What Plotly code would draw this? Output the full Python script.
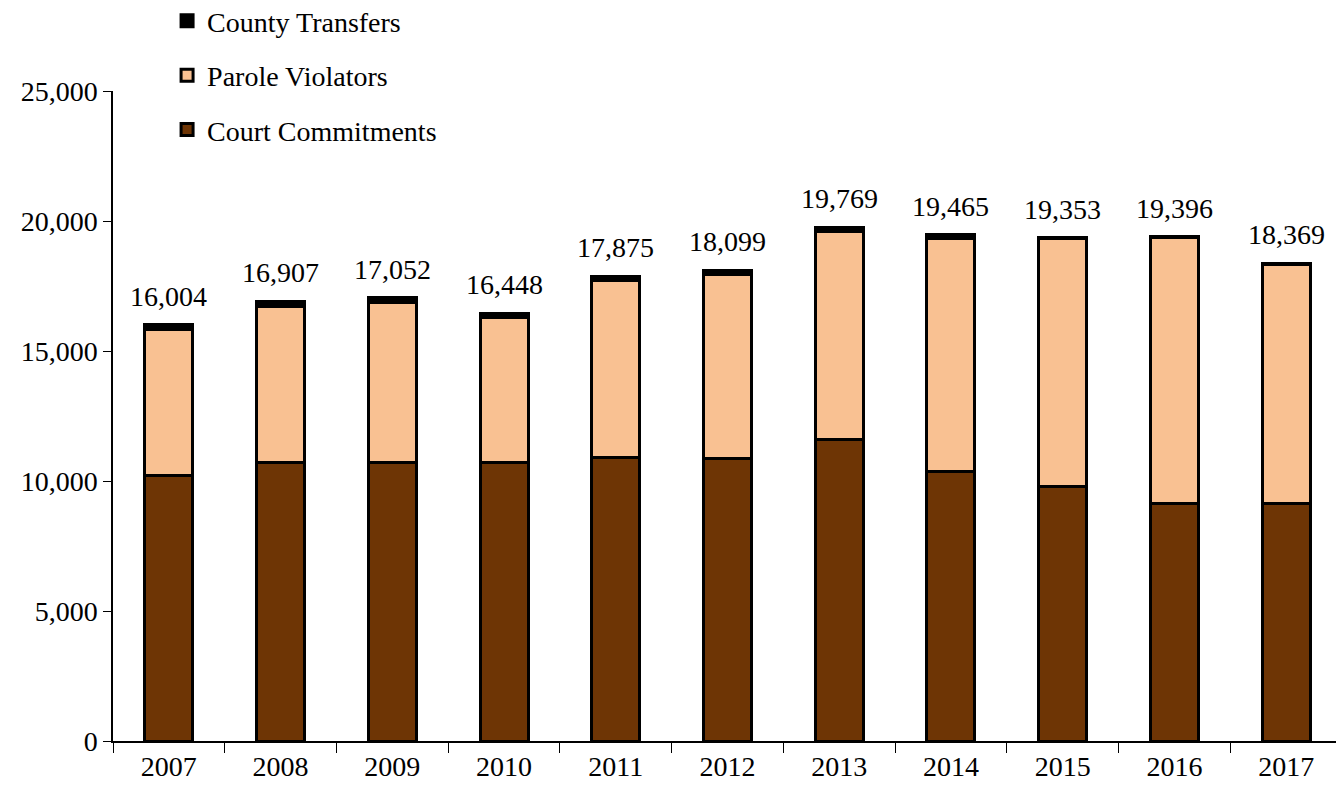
import plotly.graph_objects as go

years = ["2007", "2008", "2009", "2010", "2011", "2012", "2013", "2014", "2015", "2016", "2017"]
totals = [16004, 16907, 17052, 16448, 17875, 18099, 19769, 19465, 19353, 19396, 18369]
court = [10200, 10730, 10730, 10730, 10920, 10850, 11580, 10350, 9770, 9150, 9150]
county = [180, 180, 180, 150, 150, 150, 180, 150, 30, 30, 30]
parole = [t - c - k for t, c, k in zip(totals, court, county)]
total_labels = [f"{t:,}" for t in totals]

FONT = "Liberation Serif"
FS = 28
fig = go.Figure()
fig.add_trace(go.Bar(x=years, y=court, name="Court Commitments", legendgroup="c", legendrank=3,
                     marker=dict(color="#6E3505", line=dict(color="black", width=3))))
fig.add_trace(go.Bar(x=years, y=parole, name="Parole Violators", legendgroup="p", legendrank=2,
                     marker=dict(color="#F9C192", line=dict(color="black", width=3))))
fig.add_trace(go.Bar(x=years, y=county, name="County Transfers", legendgroup="k", legendrank=1,
                     marker=dict(color="black", line=dict(color="black", width=3))))

annotations = [dict(x=i, y=t, text=lbl, showarrow=False, xanchor="center", yanchor="bottom",
                    yshift=11, font=dict(family=FONT, size=FS, color="black"))
               for i, (t, lbl) in enumerate(zip(totals, total_labels))]

fig.update_layout(
    width=1344, height=797,
    margin=dict(l=105, r=10, t=83, b=64, autoexpand=False),
    barmode="stack", bargap=0.57,
    plot_bgcolor="white", paper_bgcolor="white",
    font=dict(family=FONT, size=FS, color="black"),
    annotations=annotations,
    legend=dict(x=0.044, y=1.146, xanchor="left", yanchor="top",
                traceorder="grouped", tracegroupgap=15,
                font=dict(family=FONT, size=FS), bgcolor="rgba(0,0,0,0)"),
    xaxis=dict(type="category", range=[-0.5, 10.5], automargin=False, showline=True,
               linecolor="black", linewidth=1.5,
               ticks="outside", tickson="boundaries", ticklen=10, tickcolor="black",
               tickangle=0, tickfont=dict(family=FONT, size=FS)),
    yaxis=dict(automargin=False, range=[0, 25000], dtick=5000, tickformat=",", showgrid=False,
               showline=True, linecolor="black", linewidth=1.5,
               ticks="outside", ticklen=8, tickcolor="black", zeroline=False,
               tickfont=dict(family=FONT, size=FS)),
)
fig.write_html("out.html")
